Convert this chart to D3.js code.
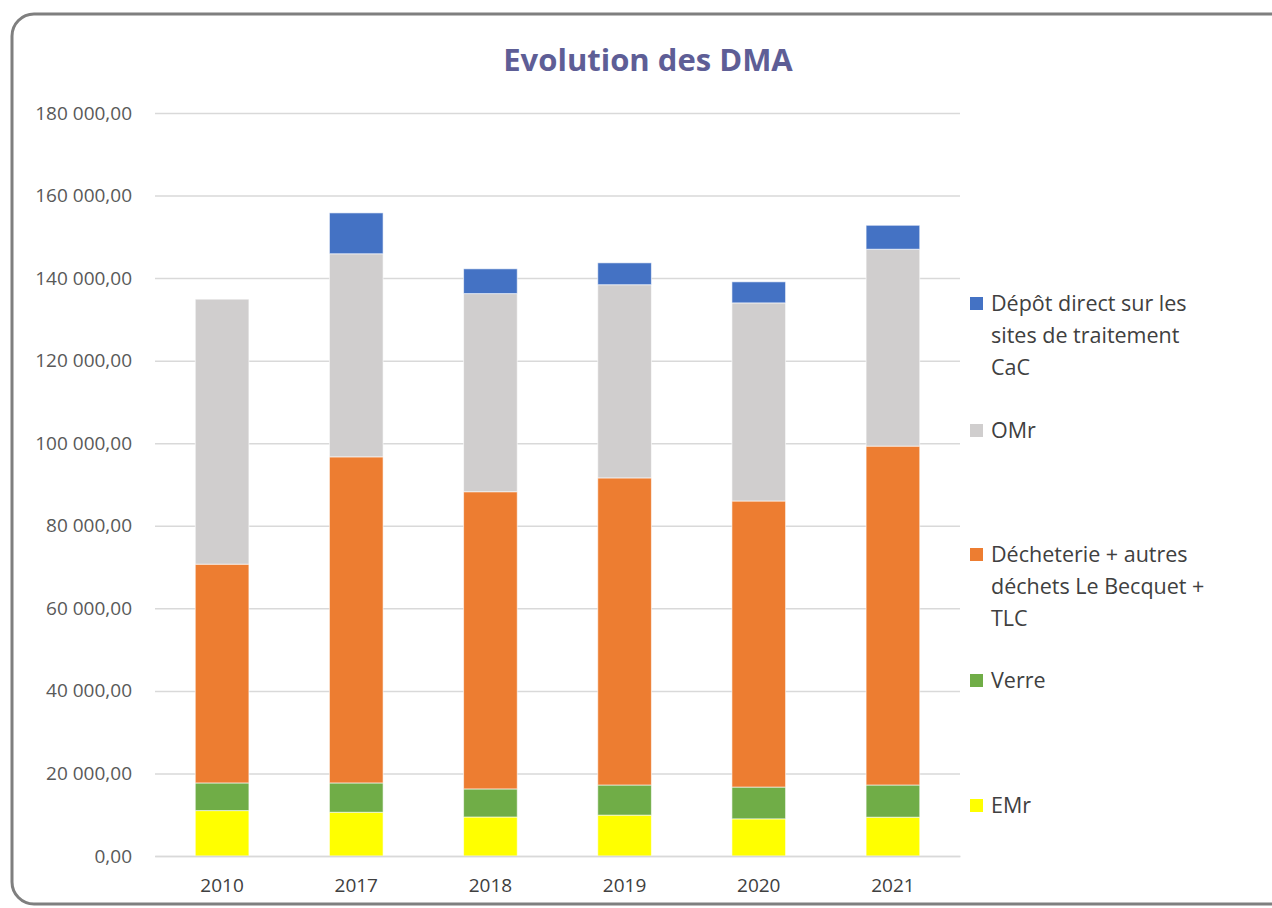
<!DOCTYPE html>
<html lang="fr">
  <head>
    <meta charset="UTF-8" />
    <title>Evolution des DMA</title>
    <script src="https://d3js.org/d3.v7.min.js"></script>
    <style>
      body {
        margin: 0;
        background: #fff;
        font-family: "Open Sans", "DejaVu Sans", sans-serif;
      }
      .axis text {
        font-family: "Open Sans", "DejaVu Sans", sans-serif;
        font-size: 19px;
      }
      .legend text {
        fill: #404040;
        font-size: 21.5px;
      }
    </style>
  </head>
  <body>
    <div id="chart"></div>
    <script>
      const years = ["2010", "2017", "2018", "2019", "2020", "2021"];
      const seriesNames = [
        "EMr",
        "Verre",
        "Décheterie + autres déchets Le Becquet + TLC",
        "OMr",
        "Dépôt direct sur les sites de traitement CaC",
      ];
      const emr = [11000, 10600, 9450, 9900, 9000, 9400];
      const verre = [6700, 7100, 6800, 7300, 7700, 7800];
      const decheterie = [53000, 79000, 72000, 74400, 69300, 82100];
      const omr = [64200, 49200, 48000, 46800, 48000, 47700];
      const depot = [0, 9900, 6000, 5300, 5100, 5800];
      const yTicks = [0, 20000, 40000, 60000, 80000, 100000, 120000, 140000, 160000, 180000];

      const colors = ["#ffff00", "#70ad47", "#ed7d31", "#d0cece", "#4472c4"];
      // libellés de légende découpés comme dans l'original
      const legendLines = [
        ["EMr"],
        ["Verre"],
        ["Décheterie + autres", "déchets Le Becquet +", "TLC"],
        ["OMr"],
        ["Dépôt direct sur les", "sites de traitement", "CaC"],
      ];
      const legendY = [805, 680, 554, 430, 303];

      const width = 1272,
        height = 908;
      const margin = { left: 155, right: 312, top: 113, bottom: 52 };

      const svg = d3
        .select("#chart")
        .append("svg")
        .attr("width", width)
        .attr("height", height);

      // cadre arrondi
      svg
        .append("rect")
        .attr("x", 12)
        .attr("y", 14)
        .attr("width", 1290)
        .attr("height", 890)
        .attr("rx", 22)
        .attr("fill", "#fff")
        .attr("stroke", "#7f7f7f")
        .attr("stroke-width", 3);

      svg
        .append("text")
        .attr("x", 648)
        .attr("y", 71)
        .attr("text-anchor", "middle")
        .attr("font-size", 31)
        .attr("font-weight", "bold")
        .attr("fill", "#5e5e96")
        .text("Evolution des DMA");

      const x = d3
        .scaleBand()
        .domain(years)
        .range([margin.left, width - margin.right])
        .paddingInner(0.6)
        .paddingOuter(0.3);

      const y = d3
        .scaleLinear()
        .domain([0, 180000])
        .range([height - margin.bottom, margin.top]);

      const fmt = (v) =>
        d3.format(",.2f")(v).replace(/,/g, " ").replace(".", ",");

      // grille + axe Y
      const yAxis = svg
        .append("g")
        .attr("class", "axis")
        .attr("transform", `translate(${margin.left},0)`)
        .call(
          d3
            .axisLeft(y)
            .tickValues(yTicks)
            .tickFormat(fmt)
            .tickSize(-(width - margin.left - margin.right))
            .tickPadding(23)
        );
      yAxis.select(".domain").remove();
      yAxis.selectAll(".tick line").attr("stroke", "#d9d9d9").attr("stroke-width", 1.5);
      yAxis.selectAll(".tick text").attr("fill", "#595959");

      const rows = years.map((yr, i) => ({
        year: yr,
        s0: emr[i],
        s1: verre[i],
        s2: decheterie[i],
        s3: omr[i],
        s4: depot[i],
      }));
      const stack = d3.stack().keys(["s0", "s1", "s2", "s3", "s4"]);
      const stacked = stack(rows);

      svg
        .append("g")
        .selectAll("g")
        .data(stacked)
        .join("g")
        .attr("fill", (d, i) => colors[i])
        .selectAll("rect")
        .data((d) => d.filter((p) => p[1] - p[0] > 0))
        .join("rect")
        .attr("x", (d) => x(d.data.year))
        .attr("width", x.bandwidth())
        .attr("y", (d) => y(d[1]))
        .attr("height", (d) => y(d[0]) - y(d[1]))
        .attr("stroke", "#ffffff")
        .attr("stroke-opacity", 0.6)
        .attr("stroke-width", 1);

      // axe X
      const xAxis = svg
        .append("g")
        .attr("class", "axis")
        .attr("transform", `translate(0,${height - margin.bottom})`)
        .call(d3.axisBottom(x).tickSize(0).tickPadding(23));
      xAxis.select(".domain").attr("stroke", "#d9d9d9").attr("stroke-width", 1.5);
      xAxis.selectAll(".tick text").attr("fill", "#404040");

      // légende
      const legend = svg.append("g").attr("class", "legend");
      seriesNames.forEach((name, i) => {
        const g = legend.append("g").attr("transform", `translate(970,${legendY[i]})`);
        g.append("rect")
          .attr("x", 0)
          .attr("y", -6)
          .attr("width", 13)
          .attr("height", 13)
          .attr("fill", colors[i]);
        g.append("text")
          .selectAll("tspan")
          .data(legendLines[i])
          .join("tspan")
          .attr("x", 21)
          .attr("dy", (d, j) => (j === 0 ? "0.35em" : 32))
          .text((d) => d);
      });
    </script>
  </body>
</html>
